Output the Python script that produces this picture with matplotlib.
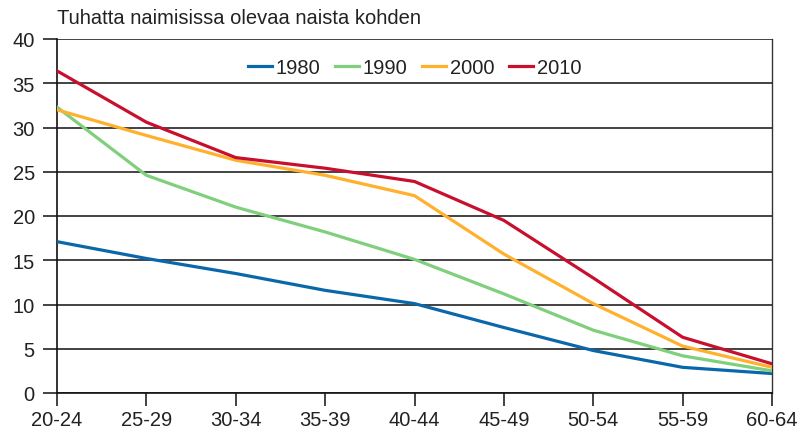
import matplotlib
matplotlib.use("Agg")
import matplotlib.pyplot as plt

age_groups = ["20-24", "25-29", "30-34", "35-39", "40-44", "45-49", "50-54", "55-59", "60-64"]
y1980 = [17.1, 15.2, 13.5, 11.6, 10.1, 7.4, 4.8, 2.9, 2.2]
y1990 = [32.3, 24.6, 21.0, 18.2, 15.1, 11.2, 7.1, 4.2, 2.5]
y2000 = [32.0, 29.1, 26.3, 24.6, 22.3, 15.7, 10.1, 5.3, 2.9]
y2010 = [36.4, 30.6, 26.6, 25.4, 23.9, 19.5, 13.0, 6.3, 3.3]
series_labels = ["1980", "1990", "2000", "2010"]
yticks = [0, 5, 10, 15, 20, 25, 30, 35, 40]
ylabel_text = "Tuhatta naimisissa olevaa naista kohden"

colors = ["#0a68aa", "#7fcf7c", "#ffb12e", "#c8102e"]

plt.rcParams['font.family'] = ['Liberation Sans', 'DejaVu Sans']

fig = plt.figure(figsize=(7.98, 4.35), dpi=100)
ax = fig.add_axes([57/798, 41/435, (772-57)/798, (394-40)/435])

x = list(range(len(age_groups)))
for vals, lab, c in zip([y1980, y1990, y2000, y2010], series_labels, colors):
    ax.plot(x, vals, color=c, lw=2.3, label=lab, solid_joinstyle='round', zorder=3)

ax.set_xlim(0, len(age_groups) - 1)
ax.set_ylim(0, 40)
ax.set_yticks(yticks)
ax.set_xticks(x)
ax.set_xticklabels(age_groups)

ax.yaxis.grid(True, color="#222222", lw=1.2)
ax.set_axisbelow(True)

for s in ["left", "bottom"]:
    ax.spines[s].set_color("#111111")
    ax.spines[s].set_linewidth(1.2)
ax.spines["top"].set_visible(False)
ax.spines["right"].set_color("#333333")
ax.spines["right"].set_linewidth(1.0)

ax.tick_params(axis='y', length=10, width=1.2, color="#222222", labelsize=14.5, pad=6, labelcolor="#222222")
ax.tick_params(axis='x', length=9, width=1.2, color="#222222", labelsize=14.5, pad=3, labelcolor="#222222")

# extend the y tick marks as outward continuation of gridlines
fig.text(57/798, 1 - 18/435, ylabel_text, fontsize=14.5, color="#222222", va="center", ha="left")

leg = ax.legend(loc="upper center", bbox_to_anchor=(0.5, 0.985), ncol=4, frameon=False,
                fontsize=14.5, handlelength=1.2, handletextpad=0.2, columnspacing=0.7,
                borderaxespad=0.3)
for t in leg.get_texts():
    t.set_color("#222222")

fig.savefig("out.png", dpi=100)
